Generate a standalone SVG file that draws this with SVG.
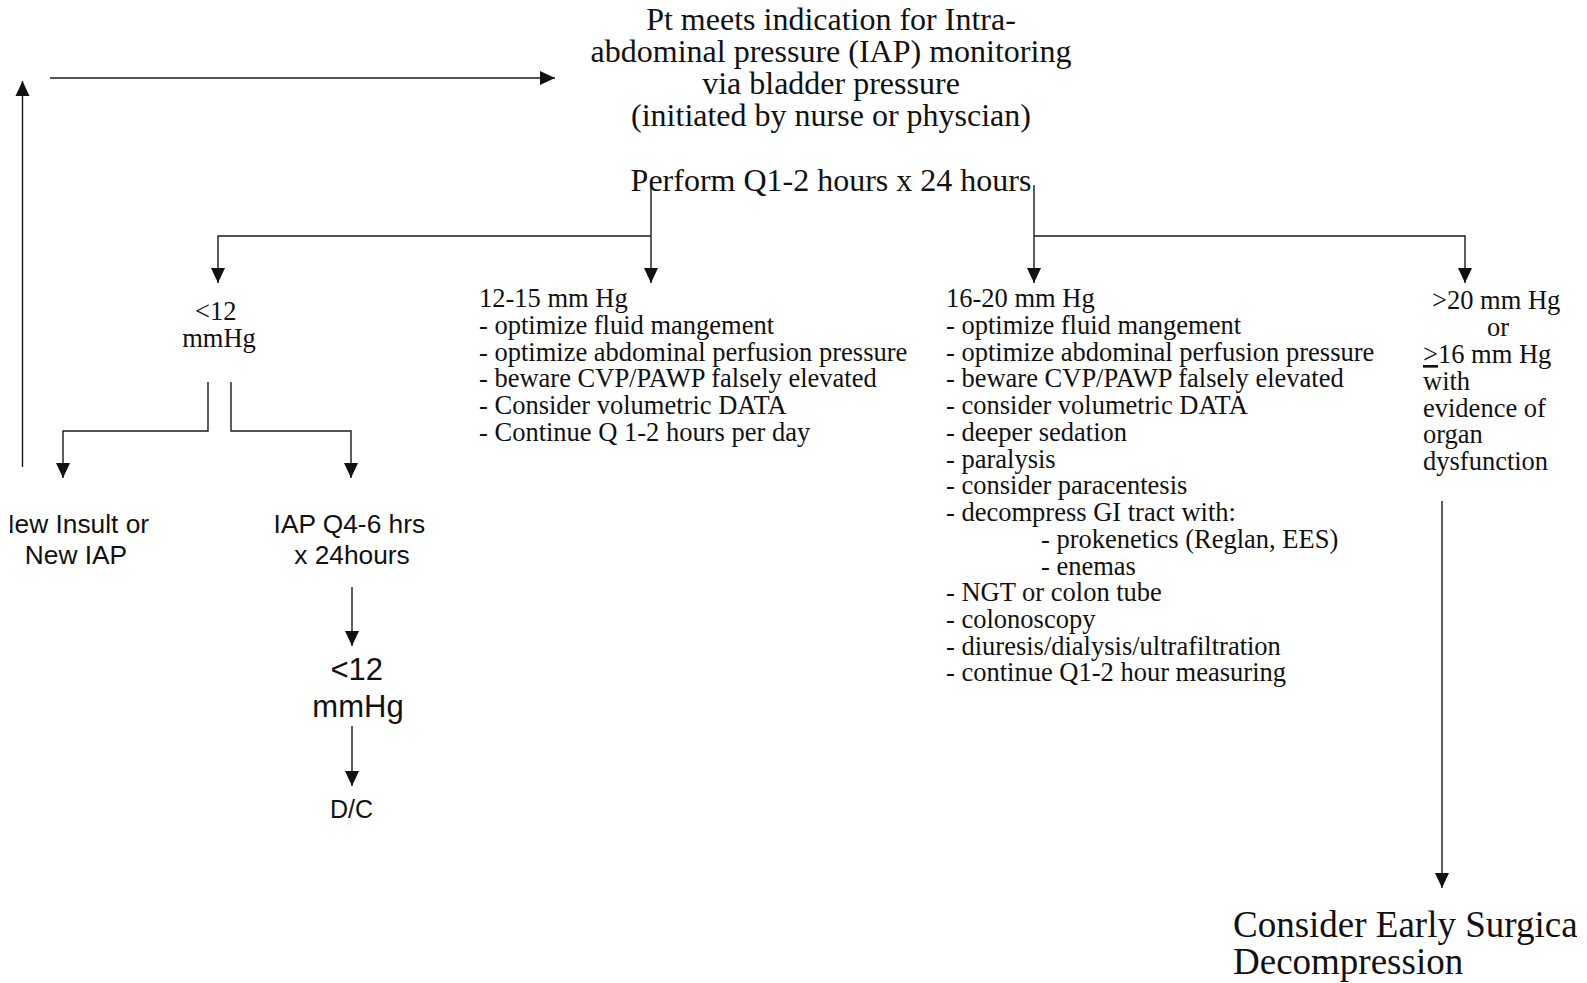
<svg xmlns="http://www.w3.org/2000/svg" width="1587" height="983" viewBox="0 0 1587 983">
<style>
.serif{font-family:"Liberation Serif","Times New Roman",serif;fill:#111}
.sans{font-family:"Liberation Sans",Arial,sans-serif;fill:#111}
.top{font-size:32px}
.body{font-size:26.5px}
.arr{font-size:26.3px}
.big{font-size:31px}
.end{font-size:37px}
.conn path{fill:none;stroke:#1a1a1a;stroke-width:1.4}
</style>
<defs>
<marker id="ah" markerUnits="userSpaceOnUse" markerWidth="16" markerHeight="15" refX="15" refY="7.5" orient="auto">
<path d="M0,0.5 L15,7.5 L0,14.5 z" fill="#111"/>
</marker>
<clipPath id="clipL"><rect x="10" y="490" width="300" height="100"/></clipPath>
<clipPath id="clipR"><rect x="1150" y="880" width="427" height="103"/></clipPath>
</defs>
<rect width="1587" height="983" fill="#fff"/>

<g class="conn" id="connectors">
<path d="M22.5,467 V81" marker-end="url(#ah)"/>
<path d="M50,78 H555" marker-end="url(#ah)"/>
<path d="M651,185 V283" marker-end="url(#ah)"/>
<path d="M1034,185 V283" marker-end="url(#ah)"/>
<path d="M651,236 H218 V283" marker-end="url(#ah)"/>
<path d="M1034,236 H1465 V283" marker-end="url(#ah)"/>
<path d="M208,382 V431 H63 V478" marker-end="url(#ah)"/>
<path d="M231,382 V431 H351 V478" marker-end="url(#ah)"/>
<path d="M352,587 V646" marker-end="url(#ah)"/>
<path d="M352,726 V786" marker-end="url(#ah)"/>
<path d="M1442,501 V888" marker-end="url(#ah)"/>
</g>

<g id="start">
<text class="serif top" text-anchor="middle">
<tspan x="835" y="30">Pt meets indication for Intra-</tspan>
<tspan x="835" y="62">abdominal pressure (IAP) monitoring</tspan>
<tspan x="835" y="94">via bladder pressure</tspan>
<tspan x="835" y="126">(initiated by nurse or physcian)</tspan>
<tspan x="831" y="191">Perform Q1-2 hours x 24 hours</tspan>
</text>
</g>

<g id="lt12">
<text class="serif body" text-anchor="middle">
<tspan x="219" y="320">&lt;12</tspan>
<tspan x="219" y="347">mmHg</tspan>
</text>
</g>

<g id="range12_15">
<text class="serif body">
<tspan x="479" y="307">12-15 mm Hg</tspan>
<tspan x="479" y="334">- optimize fluid mangement</tspan>
<tspan x="479" y="360.5">- optimize abdominal perfusion pressure</tspan>
<tspan x="479" y="387">- beware CVP/PAWP falsely elevated</tspan>
<tspan x="479" y="414">- Consider volumetric DATA</tspan>
<tspan x="479" y="440.5">- Continue Q 1-2 hours per day</tspan>
</text>
</g>

<g id="range16_20">
<text class="serif body">
<tspan x="946" y="307">16-20 mm Hg</tspan>
<tspan x="946" y="334">- optimize fluid mangement</tspan>
<tspan x="946" y="360.5">- optimize abdominal perfusion pressure</tspan>
<tspan x="946" y="387">- beware CVP/PAWP falsely elevated</tspan>
<tspan x="946" y="414">- consider volumetric DATA</tspan>
<tspan x="946" y="440.5">- deeper sedation</tspan>
<tspan x="946" y="467.5">- paralysis</tspan>
<tspan x="946" y="494">- consider paracentesis</tspan>
<tspan x="946" y="521">- decompress GI tract with:</tspan>
<tspan x="1041" y="547.5">- prokenetics (Reglan, EES)</tspan>
<tspan x="1041" y="574.5">- enemas</tspan>
<tspan x="946" y="601">- NGT or colon tube</tspan>
<tspan x="946" y="628">- colonoscopy</tspan>
<tspan x="946" y="654.5">- diuresis/dialysis/ultrafiltration</tspan>
<tspan x="946" y="681">- continue Q1-2 hour measuring</tspan>
</text>
</g>

<g id="gt20">
<text class="serif body">
<tspan x="1432" y="309">&gt;20 mm Hg</tspan>
<tspan x="1487" y="336">or</tspan>
<tspan x="1423" y="363"><tspan text-decoration="underline">&gt;</tspan>16 mm Hg</tspan>
<tspan x="1423" y="389.5">with</tspan>
<tspan x="1423" y="416.5">evidence of</tspan>
<tspan x="1423" y="443">organ</tspan>
<tspan x="1423" y="470">dysfunction</tspan>
</text>
</g>

<g id="newInsult" clip-path="url(#clipL)">
<text class="sans arr" text-anchor="middle">
<tspan x="76" y="533">New Insult or</tspan>
<tspan x="76" y="564">New IAP</tspan>
</text>
</g>

<g id="iapQ4">
<text class="sans arr" text-anchor="middle">
<tspan x="353" y="533">IAP Q4-6 hrs</tspan>
<tspan x="352" y="564">x 24hours</tspan>
</text>
</g>

<g id="lt12b">
<text class="sans big" text-anchor="middle">
<tspan x="361" y="680">&lt;12</tspan>
<tspan x="358" y="717">mmHg</tspan>
</text>
</g>

<g id="dc">
<text class="sans" font-size="25" x="351.5" y="818" text-anchor="middle">D/C</text>
</g>

<g id="surgical" clip-path="url(#clipR)">
<text class="serif end">
<tspan x="1233" y="937">Consider Early Surgical</tspan>
<tspan x="1233" y="974">Decompression</tspan>
</text>
</g>
</svg>
